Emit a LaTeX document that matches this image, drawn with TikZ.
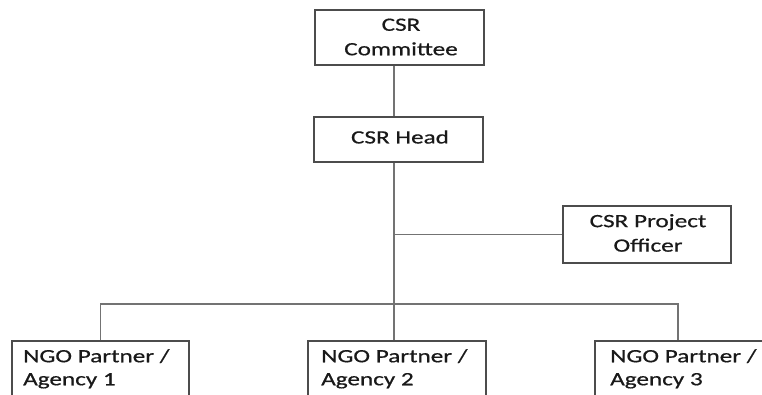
\documentclass[tikz,border=0pt]{standalone}
\usepackage{fontspec}
\newfontfamily\boxfont[FakeStretch=1.34, FakeBold=0.6]{Carlito}
\begin{document}
\begin{tikzpicture}[x=1pt,y=-1pt,
  box/.style={draw=black!70, line width=1.3pt, fill=white, inner sep=0pt},
  lbl/.style={inner sep=0pt, font=\boxfont\fontsize{18.8}{24.5}\selectfont, text=black!90, align=center},
  lbll/.style={inner sep=0pt, font=\boxfont\fontsize{18.8}{23}\selectfont, text=black!90, align=left, anchor=north west},
  conn/.style={draw=black!55, line width=1.1pt}]
\useasboundingbox (0,0) rectangle (762,395);
\clip (0,0) rectangle (762,395);
\coordinate (spine) at (394,0);
\coordinate (bus) at (0,304);
\coordinate (d3) at (678,0);
% boxes
\node[box, minimum width=169pt, minimum height=55pt] (com) at (399.5,37.5) {};
\node[lbl] (comt) at (401,37) {CSR\\Committee};
\node[box, minimum width=169pt, minimum height=45pt] (head) at (398.5,139.5) {};
\node[lbl] (headt) at (400,137) {CSR Head};
\node[box, minimum width=168pt, minimum height=57pt] (po) at (647,234.5) {};
\node[lbl] (pot) at (648,233) {CSR Project\\Officer};
\node[box, minimum width=177pt, minimum height=80pt] (ngo1) at (100.5,381) {};
\node[box, minimum width=178pt, minimum height=80pt] (ngo2) at (397,381) {};
\node[box, minimum width=180pt, minimum height=80pt] (ngo3) at (685,381) {};
\node[lbll] (n1t) at (23,349) {NGO Partner /\\Agency 1};
\node[lbll] (n2t) at (321,349) {NGO Partner /\\Agency 2};
\node[lbll] (n3t) at (610,349) {NGO Partner /\\Agency 3};
% connectors
\draw[conn] (com.south -| spine) -- (head.north -| spine);
\draw[conn] (head.south -| spine) -- (ngo2.north -| spine);
\draw[conn] (spine |- po.west) -- (po.west);
\draw[conn] (ngo1.north) -- (ngo1.north |- bus) -- (d3 |- bus) -- (d3 |- ngo3.north);
\end{tikzpicture}
\end{document}
